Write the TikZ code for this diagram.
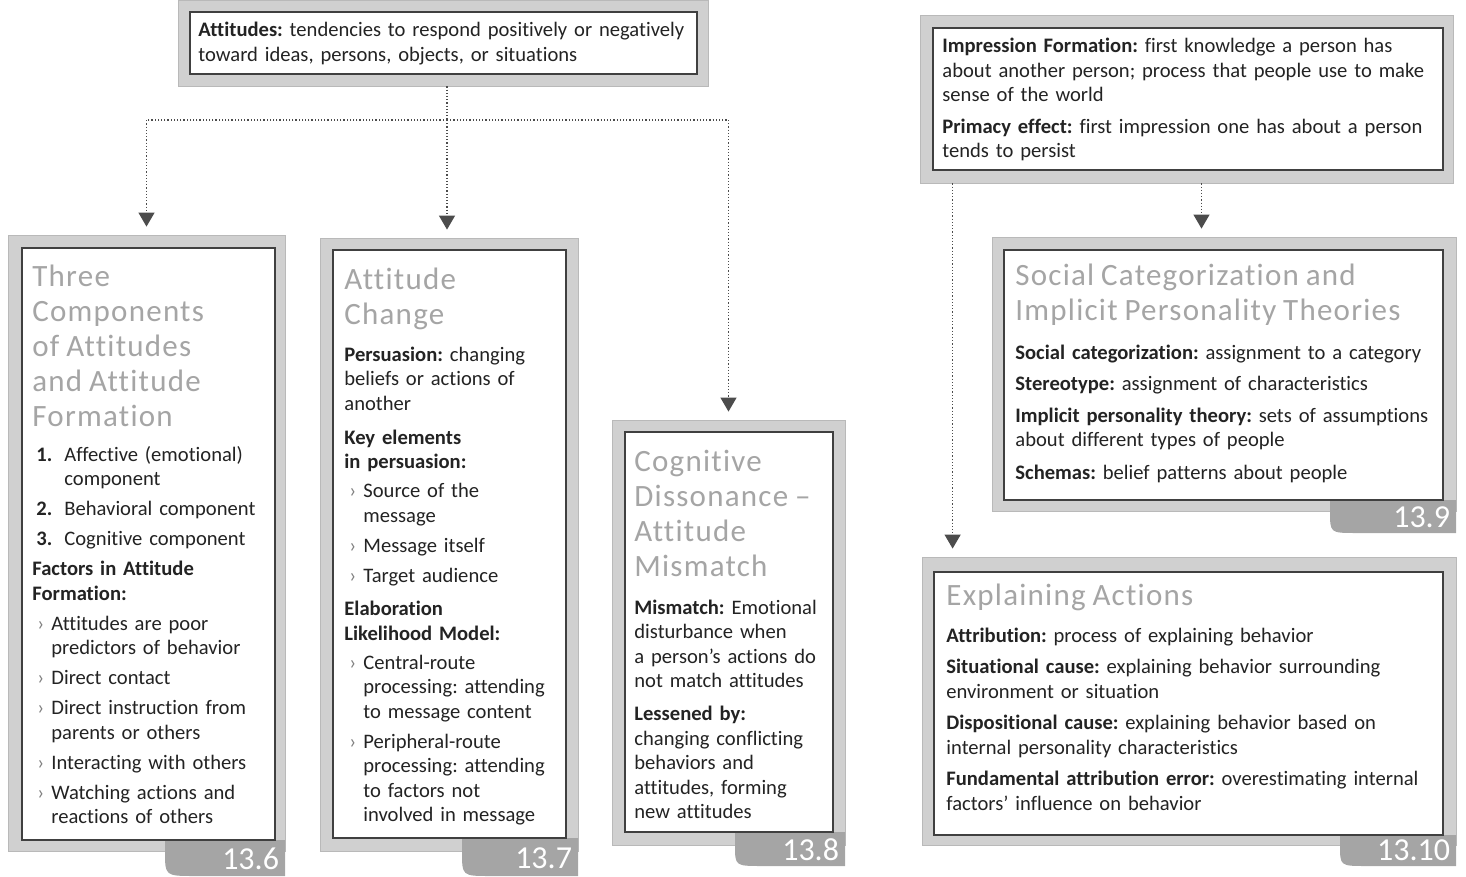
\documentclass[tikz,border=0pt]{standalone}
\usepackage{fontspec}
\setmainfont{Carlito}[Ligatures=NoCommon]
\newfontfamily\ttlfont{Carlito}[Ligatures=NoCommon, LetterSpace=4]
\usetikzlibrary{positioning, calc, fit, arrows.meta}
\definecolor{Bandgray}{RGB}{208,208,208}
\definecolor{Tabgray}{RGB}{165,165,165}
\definecolor{Titlegray}{RGB}{165,165,165}
\definecolor{Inkgray}{RGB}{35,35,35}
\newcommand{\ttl}{\ttlfont\fontsize{15.5}{17.5}\selectfont\color{Titlegray}}
\newcommand{\bul}{\makebox[9.5pt][l]{\hspace{2.5pt}\textcolor{gray}{›}}}
\newcommand{\hng}{\hspace*{9.5pt}}
\newcommand{\nmb}[1]{\makebox[16pt][l]{\hspace{2pt}\textbf{#1}}}
\setlength{\parskip}{0pt}
\frenchspacing

\begin{document}
\begin{tikzpicture}[
  x=0.5pt, y=-0.5pt,
  band/.style={draw=gray!55, fill=Bandgray, line width=0.4pt, inner sep=0pt},
  card/.style={draw=black!75, fill=white, line width=0.9pt, inner sep=0pt},
  tab/.style={fill=Tabgray},
  tabnum/.style={font=\fontsize{16}{16}\selectfont, text=white, inner sep=0pt, anchor=east},
  body/.style={font=\fontsize{10.3}{12.25}\selectfont, text=Inkgray, align=left,
               inner sep=0pt, anchor=north west},
  link/.style={densely dotted, draw=black!70, line width=0.6pt},
  arr/.style={link, -{Triangle[width=8pt,length=7pt]}, shorten >=4pt}
]
\useasboundingbox (0,0) rectangle (1466,877);

%% ---- top: attitudes ----
\node[band, fit={(178,0) (708,86)}] (attBand) {};
\node[card, fit={(190,12) (697,74)}] (attCard) {};
\node[body, text width=260pt] (attTxt) at (198,22)
  {\textbf{Attitudes:} tendencies to respond positively or negatively\\
   toward ideas, persons, objects, or situations};

%% ---- 13.6: three components ----
\node[band, fit={(8,235) (285,851)}] (comp) {};
\fill[tab] (165,840) -- (165,851) .. controls (165,876) .. (195,876) -- (285,876) -- (285,840) -- cycle;
\node[card, fit={(22,248) (275,840)}] (compCard) {};
\node[body, text width=125pt] (compTxt) at (32,265)
  {{\ttl Three\\ Components\\ of Attitudes\\ and Attitude\\ Formation\par}\vspace{5pt}
   \nmb{1.}Affective (emotional)\\ \hspace*{16pt}component\\[2.75pt]
   \nmb{2.}Behavioral component\\[2.75pt]
   \nmb{3.}Cognitive component\\[2.75pt]
   {\bfseries Factors in Attitude\\ Formation:}\\[2.75pt]
   \bul Attitudes are poor\\ \hng predictors of behavior\\[2.75pt]
   \bul Direct contact\\[2.75pt]
   \bul Direct instruction from\\ \hng parents or others\\[2.75pt]
   \bul Interacting with others\\[2.75pt]
   \bul Watching actions and\\ \hng reactions of others};
\node[tabnum] (compNum) at ($(comp.south east)+(-6,7)$) {13.6};

%% ---- 13.7: attitude change ----
\node[band, fit={(320,238) (578,851)}] (change) {};
\fill[tab] (462,838) -- (462,851) .. controls (462,876) .. (490,876) -- (578,876) -- (578,838) -- cycle;
\node[card, fit={(333,250) (566,838)}] (changeCard) {};
\node[body, text width=115pt] (changeTxt) at (344,268)
  {{\ttl Attitude\\ Change\par}\vspace{6pt}
   {\bfseries Persuasion:} changing\\ beliefs or actions of\\ another\\[4.75pt]
   {\bfseries Key elements\\ in persuasion:}\\[2.25pt]
   \bul Source of the\\ \hng message\\[2.75pt]
   \bul Message itself\\[2.75pt]
   \bul Target audience\\[4.5pt]
   {\bfseries Elaboration\\ Likelihood Model:}\\[2.25pt]
   \bul Central-route\\ \hng processing: attending\\ \hng to message content\\[2.75pt]
   \bul Peripheral-route\\ \hng processing: attending\\ \hng to factors not\\ \hng involved in message};
\node[tabnum] (changeNum) at ($(change.south east)+(-6,7)$) {13.7};

%% ---- 13.8: cognitive dissonance ----
\node[band, fit={(612,420) (845,845)}] (mism) {};
\fill[tab] (735,832) -- (735,845) .. controls (735,866) .. (762,866) -- (845,866) -- (845,832) -- cycle;
\node[card, fit={(625,432) (833,832)}] (mismCard) {};
\node[body, text width=100pt] (mismTxt) at (634,450)
  {{\ttl Cognitive\\ Dissonance –\\ Attitude\\ Mismatch\par}\vspace{6.5pt}
   {\bfseries Mismatch:} Emotional\\ disturbance when\\ a person's actions do\\ not match attitudes\\[4.25pt]
   {\bfseries Lessened by:}\\ changing conflicting\\ behaviors and\\ attitudes, forming\\ new attitudes};
\node[tabnum] (mismNum) at ($(mism.south east)+(-6,4)$) {13.8};

%% ---- right top: impression formation ----
\node[band, fit={(920,15) (1453,183)}] (imp) {};
\node[card, fit={(933,28) (1443,170)}] (impCard) {};
\node[body, text width=250pt] (impTxt) at (942,38)
  {{\bfseries Impression Formation:} first knowledge a person has\\
   about another person; process that people use to make\\
   sense of the world\\[3.5pt]
   {\bfseries Primacy effect:} first impression one has about a person\\
   tends to persist};

%% ---- 13.9: social categorization ----
\node[band, fit={(992,237) (1456,511)}] (soc) {};
\fill[tab] (1330,500) -- (1330,511) .. controls (1330,533) .. (1356,533) -- (1456,533) -- (1456,500) -- cycle;
\node[card, fit={(1004,250) (1443,500)}] (socCard) {};
\node[body, text width=230pt] (socTxt) at (1015,264)
  {{\ttl Social Categorization and\\ Implicit Personality Theories\par}\vspace{7pt}
   {\bfseries Social categorization:} assignment to a category\\[3.5pt]
   {\bfseries Stereotype:} assignment of characteristics\\[3.5pt]
   {\bfseries Implicit personality theory:} sets of assumptions\\
   about different types of people\\[4pt]
   {\bfseries Schemas:} belief patterns about people};
\node[tabnum] (socNum) at ($(soc.south east)+(-6,6)$) {13.9};

%% ---- 13.10: explaining actions ----
\node[band, fit={(922,557) (1456,845)}] (expl) {};
\fill[tab] (1340,835) -- (1340,845) .. controls (1340,866) .. (1366,866) -- (1456,866) -- (1456,835) -- cycle;
\node[card, fit={(934,572) (1443,835)}] (explCard) {};
\node[body, text width=250pt] (explTxt) at (946,584)
  {{\ttl Explaining Actions\par}\vspace{6pt}
   {\bfseries Attribution:} process of explaining behavior\\[3.5pt]
   {\bfseries Situational cause:} explaining behavior surrounding\\
   environment or situation\\[3.5pt]
   {\bfseries Dispositional cause:} explaining behavior based on\\
   internal personality characteristics\\[3.5pt]
   {\bfseries Fundamental attribution error:} overestimating internal\\
   factors' influence on behavior};
\node[tabnum] (explNum) at ($(expl.south east)+(-6,5)$) {13.10};

%% ---- connectors ----
\coordinate (split) at (447,120);
\draw[link] (split |- attBand.south) -- (split);
\draw[arr] (split) -| (comp.north);
\draw[arr] (split) -- (split |- change.north);
\draw[arr] (split) -| (mism.north);
\draw[arr] ([xshift=7.5pt]imp.south) -- ([xshift=7.5pt]imp.south |- soc.north);
\draw[arr] ([xshift=16.5pt]imp.south west) -- ([xshift=16.5pt]imp.south west |- expl.north);

\end{tikzpicture}
\end{document}
